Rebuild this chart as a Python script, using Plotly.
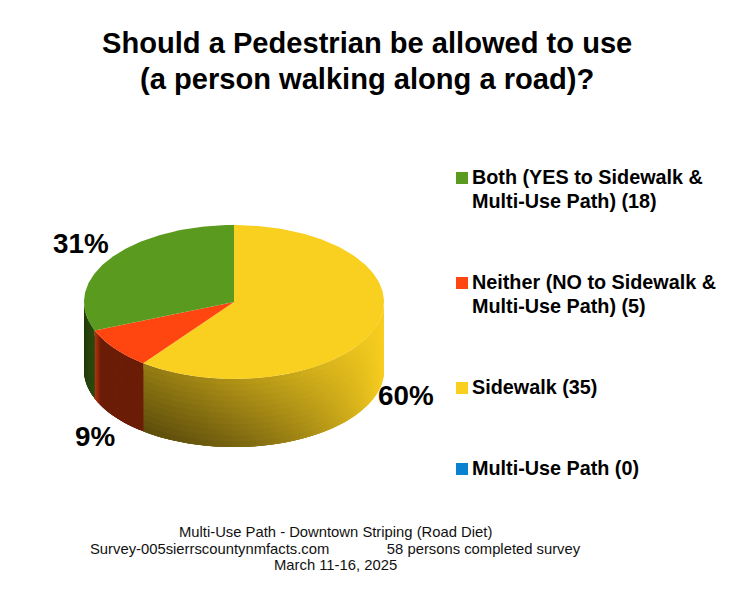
import numpy as np
import plotly.graph_objects as go

# ---- data ----
categories = ["Both", "Neither", "Sidewalk", "Multi-Use Path"]
values = [18, 5, 35, 0]
legend_first = ["Both (YES to Sidewalk &", "Neither (NO to Sidewalk &", "Sidewalk", "Multi-Use Path"]
legend_second = ["Multi-Use Path)", "Multi-Use Path)", "", ""]
colors = ["#5A9A1E", "#FF4510", "#F9CF20", "#0A80D0"]
title_lines = ["Should a Pedestrian be allowed to use", "(a person walking along a road)?"]
footer_lines = [
    "Multi-Use Path - Downtown Striping (Road Diet)",
    "Survey-005sierrscountynmfacts.com" + "\u00a0" * 14 + "58 persons completed survey",
    "March 11-16, 2025",
]

# ---- drawing geometry (pixels) ----
CX, CY, RX, RY, DEPTH = 234.0, 302.0, 150.0, 77.0, 68.0
FONT = "Liberation Sans"


def rgb(hex_color):
    return np.array([int(hex_color[i:i + 2], 16) for i in (1, 3, 5)], float)


def to_css(c):
    c = np.clip(c, 0, 255).round().astype(int)
    return f"rgb({c[0]},{c[1]},{c[2]})"


def rim(theta, drop=0.0):
    return CX + RX * np.sin(theta), CY - RY * np.cos(theta) + drop


fig = go.Figure()


def poly(xs, ys, color):
    fig.add_trace(go.Scatter(
        x=list(xs), y=list(ys), mode="lines", fill="toself", fillcolor=color,
        line=dict(color=color, width=0), hoverinfo="skip", showlegend=False))


def wall_shade(name, x, h, t_in_slice):
    if name == "Sidewalk":
        t = np.clip((x - 146) / (384 - 146), 0, 1)
        return (0.60 + 0.40 * t ** 1.3) * (1 - 0.38 * h * (1 - t ** 2))
    if name == "Neither":
        # dark wall with a short lit band at its right-hand edge
        return 0.42 + (0.32 * (t_in_slice - 0.82) / 0.18 if t_in_slice > 0.82 else 0)
    return 0.48 - 0.12 * t_in_slice


total = sum(values)
order = list(range(len(values)))[::-1]  # clockwise from 12 o'clock
ends = {}
cum = 0
for i in order:
    ends[i] = (cum / total * 2 * np.pi, (cum + values[i]) / total * 2 * np.pi)
    cum += values[i]

# side wall: only the front half of the rim is visible.
# Bands are painted left to right / top to bottom with a small overlap so no seams show.
H_STEPS = 12
for i in order:
    a0, a1 = ends[i]
    lo, hi = max(a0, np.pi / 2), min(a1, 3 * np.pi / 2)
    if hi <= lo:
        continue
    n = max(6, int((hi - lo) / np.radians(1.5)))
    edges = np.linspace(lo, hi, n + 1)
    base = rgb(colors[i])
    for k in range(n):
        e0, e1 = edges[k], edges[min(k + 2, n)]
        th = np.linspace(e0, e1, 4)
        for j in range(H_STEPS):
            d0 = DEPTH * j / H_STEPS
            d1 = DEPTH * min(j + 2, H_STEPS) / H_STEPS
            xt, yt = rim(th, d0)
            xb, yb = rim(th[::-1], d1)
            mid_x = rim((edges[k] + edges[k + 1]) / 2)[0]
            shade = wall_shade(categories[i], mid_x, (j + 0.5) / H_STEPS, (k + 0.5) / n)
            poly([*xt, *xb, xt[0]], [*yt, *yb, yt[0]], to_css(base * shade))

# top face
for i in order:
    a0, a1 = ends[i]
    if a1 <= a0:
        continue
    th = np.linspace(a0, a1, max(3, int((a1 - a0) / np.radians(1))))
    xs, ys = rim(th)
    poly([CX, *xs, CX], [CY, *ys, CY], colors[i])

# legend swatches
legend_y = [178, 283, 388, 469]
first_y = [177, 282, 387, 468]
second_y = [201, 306, None, None]
fig.add_trace(go.Scatter(
    x=[462] * len(categories), y=legend_y, mode="markers",
    marker=dict(symbol="square", size=12, color=colors, line=dict(width=0)),
    hoverinfo="skip", showlegend=False))

annotations = []


def label(x, y, text, size, bold=True, anchor="center", color="#000000"):
    annotations.append(dict(
        x=x, y=y, xref="x", yref="y", text=f"<b>{text}</b>" if bold else text,
        showarrow=False, xanchor=anchor, yanchor="middle", align="center",
        font=dict(family=FONT, size=size, color=color)))


for y, line in zip([43, 79], title_lines):
    label(367, y, line, 29.1)

for i in range(len(categories)):
    if legend_second[i]:
        label(470, first_y[i], legend_first[i], 19.8, anchor="left")
        label(470, second_y[i], f"{legend_second[i]} ({values[i]})", 19.8, anchor="left")
    else:
        label(470, first_y[i], f"{legend_first[i]} ({values[i]})", 19.8, anchor="left")

pct_pos = {"Both": (81, 243), "Neither": (95, 436), "Sidewalk": (406, 395)}
for i, cat in enumerate(categories):
    if cat in pct_pos:
        label(*pct_pos[cat], f"{round(values[i] / total * 100)}%", 27.8)

for y, line in zip([532, 549, 565], footer_lines):
    label(335, y, line, 14.8, bold=False, color="#111111")

fig.update_layout(
    width=742, height=599, margin=dict(l=0, r=0, t=0, b=0),
    paper_bgcolor="white", plot_bgcolor="white", showlegend=False,
    xaxis=dict(range=[0, 742], visible=False, fixedrange=True),
    yaxis=dict(range=[599, 0], visible=False, fixedrange=True),
    annotations=annotations,
)
fig.write_html("out.html", post_script="document.body.style.margin='0';", config={"displayModeBar": False})
